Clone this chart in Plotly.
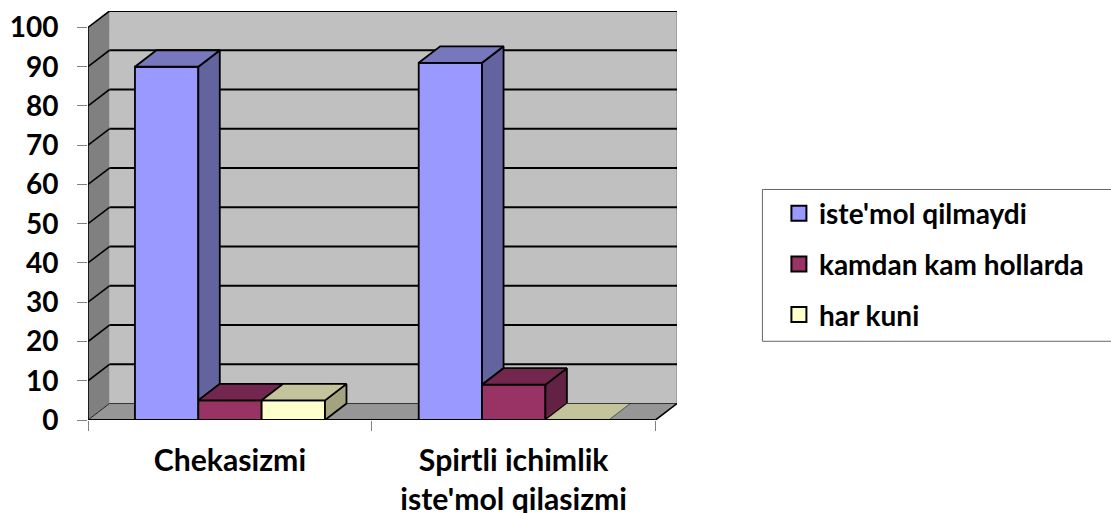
import plotly.graph_objects as go

CATEGORIES = ["Chekasizmi", "Spirtli ichimlik<br>iste'mol qilasizmi"]
SERIES_NAMES = ["iste'mol qilmaydi", "kamdan kam hollarda", "har kuni"]
NE_ISTEMOL = [90, 91]
KAMDAN_KAM = [5, 9]
HAR_KUNI = [5, 0]
Y_TICKS = [0, 10, 20, 30, 40, 50, 60, 70, 80, 90, 100]

SERIES = [NE_ISTEMOL, KAMDAN_KAM, HAR_KUNI]
FRONT = ["#9999FF", "#993366", "#FFFFCC"]
TOP = ["#7777BE", "#73274E", "#C3C39C"]
SIDE = ["#63639F", "#632143", "#A3A380"]

# pixel calibration of the pseudo-3D projection
PX_X = 284.0       # px per category
PX_Y = 3.93        # px per value unit
X0, Y0 = 87.5, 420.3
DX = 21.5 / PX_X   # depth offset, x units
DY = 16.5 / PX_Y   # depth offset, y units
GAP = 47 / PX_X
W = 63.4 / PX_X
XMAX = 2 + DX
YMAX = 100 + DY
W_PX, H_PX = 1111, 513
FONT = "Lato"

fig = go.Figure()

shapes = []


def poly(xs, ys, fill):
    path = "M" + " L".join(f"{a},{b}" for a, b in zip(xs, ys)) + " Z"
    shapes.append(dict(type="path", path=path, fillcolor=fill, line=dict(width=0),
                       xref="x", yref="y", layer="below"))


def seg(x0, y0, x1, y1, color="black", width=1.6, layer="below"):
    shapes.append(dict(type="line", x0=x0, y0=y0, x1=x1, y1=y1, xref="x", yref="y",
                       line=dict(color=color, width=width), layer=layer))


# walls and floor
poly([DX, XMAX, XMAX, DX], [DY, DY, YMAX, YMAX], "#C0C0C0")
poly([0, DX, DX, 0], [0, DY, YMAX, 100], "#808080")
poly([0, 2, XMAX, DX], [0, 0, DY, DY], "#969696")
seg(XMAX, DY, XMAX, YMAX, color="#8C8C8C", width=1.2)
for v in Y_TICKS:
    if v == 0:
        seg(DX, DY, XMAX, DY, color="#333333", width=1.0)
        seg(0, 0, DX, DY, color="#222222", width=1.0)
    else:
        seg(DX, v + DY, XMAX, v + DY, width=1.9)
        seg(0, v, DX, v + DY)

# bar fronts
for j, (name, vals) in enumerate(zip(SERIES_NAMES, SERIES)):
    xs = [i + GAP + (j + 0.5) * W for i in range(len(vals))]
    fig.add_trace(go.Bar(x=xs, y=vals, width=W, name=name, legendgroup=name, showlegend=False,
                         marker=dict(color=FRONT[j], line=dict(color="black", width=1.8)),
                         hoverinfo="skip"))


def face(xs, ys, fill, lw=1.8, name=None):
    fig.add_trace(go.Scatter(x=xs, y=ys, mode="lines", fill="toself", fillcolor=fill,
                             line=dict(color="black", width=lw), showlegend=False,
                             legendgroup=name, hoverinfo="skip"))


# bar sides (only the part above the right-hand neighbour) and tops
for i in range(len(CATEGORIES)):
    for j, name in enumerate(SERIES_NAMES):
        v = SERIES[j][i]
        nb = SERIES[j + 1][i] if j + 1 < len(SERIES) else 0
        x0 = i + GAP + j * W
        x1 = x0 + W
        if v > nb:
            face([x1, x1 + DX, x1 + DX, x1, x1], [nb, nb + DY, v + DY, v, nb], SIDE[j], name=name)
    for j, name in enumerate(SERIES_NAMES):
        v = SERIES[j][i]
        x0 = i + GAP + j * W
        x1 = x0 + W
        lw = 1.8 if v > 0 else 0.5
        face([x0, x1, x1 + DX, x0 + DX, x0], [v, v, v + DY, v + DY, v], TOP[j], lw=lw, name=name)

# legend entries
for j, name in enumerate(SERIES_NAMES):
    fig.add_trace(go.Scatter(x=[None], y=[None], mode="markers", name=name, legendgroup=name,
                             marker=dict(symbol="square", size=15, color=FRONT[j],
                                         line=dict(color="black", width=2))))

# front edges, above the bars
seg(0, 0, 0, 100, layer="above")
seg(0, 0, 2, 0, width=2.2, layer="above")
seg(2, 0, XMAX, DY, layer="above")

# legend frame (runs off the right edge)
shapes.append(dict(type="rect", xref="paper", yref="paper",
                   x0=(762.5 - X0) / (XMAX * PX_X), x1=(1125 - X0) / (XMAX * PX_X),
                   y0=(Y0 - 341.5) / (YMAX * PX_Y), y1=(Y0 - 189.5) / (YMAX * PX_Y),
                   line=dict(color="#666666", width=1), layer="above"))

LABEL_SIZE = 28
XLABEL_SIZE = 30.2
OUTER_SIZE = 30
ticktext = ["<br>".join(f'<span style="font-size:{XLABEL_SIZE}px">{p}</span>' for p in c.split("<br>"))
            for c in CATEGORIES]

fig.update_layout(
    width=W_PX, height=H_PX, autosize=False,
    paper_bgcolor="white", plot_bgcolor="white",
    margin=dict(l=X0, r=W_PX - X0 - XMAX * PX_X, t=Y0 - YMAX * PX_Y, b=H_PX - Y0, pad=0, autoexpand=False),
    barmode="overlay",
    shapes=shapes,
    font=dict(family=FONT, size=24, color="black", weight="bold"),
    xaxis=dict(range=[0, XMAX], tickmode="array", tickvals=[0.5, 1.5], ticktext=ticktext,
               showgrid=False, zeroline=False, showline=False, ticks="",
               ticklabelstandoff=20,
               tickfont=dict(family=FONT, size=OUTER_SIZE, color="black", weight="bold"),
               minor=dict(tickmode="array", tickvals=[0, 1, 2], ticks="outside", ticklen=10,
                          tickcolor="#808080", tickwidth=1, showgrid=False)),
    yaxis=dict(range=[0, YMAX], tickmode="array", tickvals=Y_TICKS,
               showgrid=False, zeroline=False, showline=False,
               ticks="outside", ticklen=10, tickcolor="#808080", tickwidth=1,
               ticklabelstandoff=13,
               tickfont=dict(family=FONT, size=LABEL_SIZE, color="black", weight="bold")),
    legend=dict(x=(779 - X0) / (XMAX * PX_X), y=(Y0 - 188.5) / (YMAX * PX_Y), xanchor="left", yanchor="top",
                bgcolor="rgba(0,0,0,0)", borderwidth=0, tracegroupgap=11.3,
                font=dict(family=FONT, size=LABEL_SIZE, color="black", weight="bold")),
)

fig.write_html("out.html", config={"displayModeBar": False},
               post_script="document.body.style.margin='0';document.body.style.overflow='hidden';")
